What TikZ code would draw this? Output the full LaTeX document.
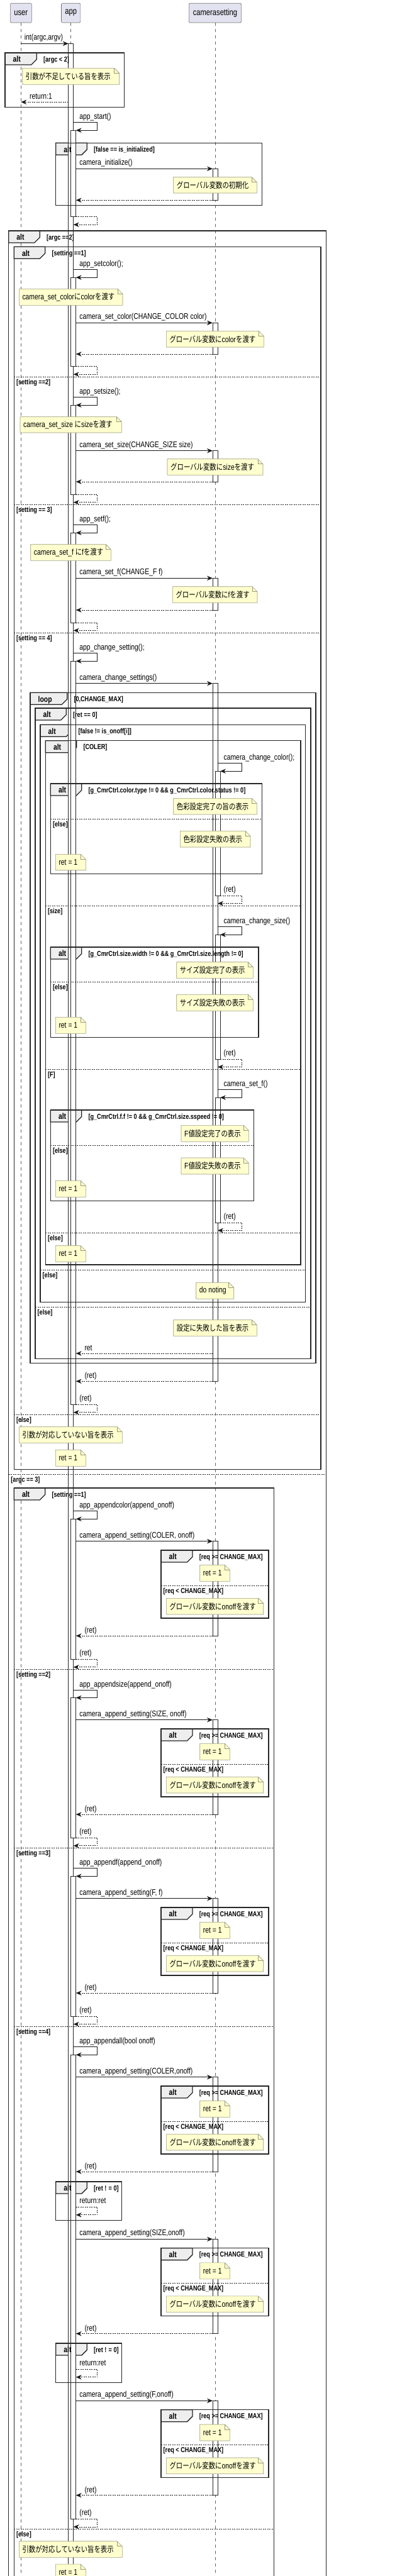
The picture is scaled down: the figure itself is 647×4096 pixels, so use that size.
\documentclass[tikz,border=0pt]{standalone}
\usepackage{fontspec}
\setmainfont[FakeStretch=0.8]{Liberation Sans}
\newfontfamily\jpfont[FakeStretch=0.8]{Noto Sans CJK JP}
\usetikzlibrary{arrows.meta}
\pgfdeclarelayer{bg}\pgfdeclarelayer{bars}\pgfdeclarelayer{fg}
\pgfsetlayers{bg,main,bars,fg}
\definecolor{partfill}{HTML}{E2E2F0}
\definecolor{tabfill}{HTML}{EEEEEE}
\definecolor{memofill}{HTML}{FEFECE}
\definecolor{memoedge}{HTML}{9A9A80}
\newcommand{\jp}[1]{{\jpfont#1}}
\def\userX{33.3}\def\appL{108.7}\def\appR{116.7}\def\appRR{120.7}\def\appTurn{154.7}
\def\camL{338}\def\camR{346}\def\camRR{350}\def\camTurn{384}
\newcommand{\actbar}[3]{\begin{pgfonlayer}{bars}\draw[actbox] (#1-4,#2) rectangle (#1+4,#3);\end{pgfonlayer}}
\newcommand{\callmsg}[4]{\begin{pgfonlayer}{fg}
  \draw[callline] (#1,#3) -- (#2,#3);
  \node[msglbl] at (#1+5.4,#3-5.5) {#4};\end{pgfonlayer}}
\newcommand{\retmsg}[4]{\begin{pgfonlayer}{fg}
  \draw[retline] (#1,#3) -- (#2,#3);
  \node[msglbl] at (#2+13.6,#3-4.6) {#4};\end{pgfonlayer}}
\newcommand{\selfcall}[5]{\begin{pgfonlayer}{fg}
  \draw[callline] (#1,#4) -- (#2,#4) -- (#2,#4+12.5) -- (#3,#4+12.5);
  \node[msglbl] at (#1+9.4,#4-5) {#5};\end{pgfonlayer}}
\newcommand{\selfret}[5]{\begin{pgfonlayer}{fg}
  \draw[retline] (#1,#4) -- (#2,#4) -- (#2,#4+12.5) -- (#3,#4+12.5);
  \node[msglbl] at (#1+5.5,#4-6) {#5};\end{pgfonlayer}}
\newcommand{\frm}[7]{%
  \filldraw[tabshape] (#1,#2) -- ++(#7,0) -- ++(0,10.5) -- ++(-8.5,8.5) -- (#1,#2+19) -- cycle;
  \begin{pgfonlayer}{fg}
  \draw[frameline] (#1,#2) rectangle (#3,#4);
  \node[tablbl] at (#1+12.5,#2+14.8) {#5};
  \node[guardlbl] at (#1+#7+10.6,#2+14.2) {#6};\end{pgfonlayer}}
\newcommand{\altsep}[4]{\begin{pgfonlayer}{fg}
  \draw[sepline] (#1,#3) -- (#2,#3);
  \node[guardlbl] at (#1+3.5,#3+12) {#4};\end{pgfonlayer}}
\newcommand{\memo}[5]{\begin{pgfonlayer}{fg}
  \filldraw[memobox] (#1,#2) -- (#3-8,#2) -- (#3,#2+8) -- (#3,#4) -- (#1,#4) -- cycle;
  \draw[memobox, fill=none] (#3-8,#2) -- (#3-8,#2+8) -- (#3,#2+8);
  \node[msglbl, anchor=west] at (#1+5,{(#2+#4)/2}) {#5};\end{pgfonlayer}}
\newcommand{\reqalt}[1]{%
  \frm{256}{#1}{427}{#1+108}{alt}{[req >= CHANGE\_MAX]}{50}
  \memo{317.7}{#1+23.3}{365.3}{#1+49.3}{ret = 1}
  \altsep{256}{427}{#1+56}{[req < CHANGE\_MAX]}
  \memo{264.3}{#1+76.3}{418.7}{#1+102}{\jp{グローバル変数に}onoff\jp{を渡す}}}
\newcommand{\appendblock}[2]{%
  \callmsg{\appRR}{\camL}{#1}{#2}
  \actbar{342}{#1}{#1+150.3}
  \reqalt{#1+14.3}
  \retmsg{\camL}{\appRR}{#1+150.3}{(ret)}}
\begin{document}
\begin{tikzpicture}[x=1pt, y=-1pt,
  partbox/.style={draw=black!55, fill=partfill, rounded corners=1.5pt, line width=0.6pt,
    minimum width=#1, minimum height=30.7pt, inner sep=0pt, font=\fontsize{14}{16}\selectfont},
  lifeline/.style={draw=black!60, dash pattern=on 5pt off 5pt, line width=0.5pt},
  actbox/.style={draw=black!85, fill=white, line width=0.6pt},
  callline/.style={draw=black!90, line width=0.7pt, -{Stealth[length=9pt,width=7.5pt,inset=3pt]}},
  retline/.style={callline, dash pattern=on 2pt off 1.5pt},
  frameline/.style={draw=black!85, line width=1.3pt},
  tabshape/.style={frameline, fill=tabfill},
  sepline/.style={draw=black!85, line width=0.6pt, dash pattern=on 2pt off 1.5pt},
  memobox/.style={draw=memoedge, fill=memofill, line width=0.6pt},
  msglbl/.style={anchor=base west, inner sep=0pt, font=\fontsize{13}{15}\selectfont},
  guardlbl/.style={anchor=base west, inner sep=0pt, font=\bfseries\fontsize{11.4}{13}\selectfont},
  tablbl/.style={anchor=base west, inner sep=0pt, font=\bfseries\fontsize{13}{15}\selectfont}]
\useasboundingbox (0,0) rectangle (647,4096);
\node[partbox=34pt] (user) at (33.3,20.6) {user};
\node[partbox=30.4pt] (app) at (112.7,20.6) {app};
\node[partbox=83.3pt] (cam) at (342,20.6) {camerasetting};
\begin{pgfonlayer}{bg}
\draw[lifeline] (user.south) -- ++(0,4100);
\draw[lifeline] (app.south) -- ++(0,4100);
\draw[lifeline] (cam.south) -- ++(0,4100);
\end{pgfonlayer}
\callmsg{\userX}{\appL}{69.3}{int(argc,argv)}
\actbar{112.7}{69.3}{4120}
\frm{8}{84}{197.7}{170.7}{alt}{[argc < 2]}{50.3}
\memo{35.7}{108.3}{189.7}{134.3}{\jp{引数が不足している旨を表示}}
\retmsg{\appL}{\userX}{162.3}{return:1}
\selfcall{\appR}{\appTurn}{\appRR}{194.7}{app\_start()}
\actbar{116.7}{207.3}{344.7}
\frm{88.7}{227.3}{416.7}{326.7}{alt}{[false == is\_initialized]}{49.6}
\callmsg{\appRR}{\camL}{268.3}{camera\_initialize()}
\actbar{342}{268.3}{318.3}
\memo{275.7}{281.7}{408.3}{307}{\jp{グローバル変数の初期化}}
\retmsg{\camL}{\appRR}{318.3}{}
\selfret{\appRR}{\appTurn}{\appR}{344.7}{}
\frm{13.7}{367}{518.3}{4120}{alt}{[argc ==2]}{49.6}
\frm{22.3}{392.3}{510}{2336.3}{alt}{[setting ==1]}{49.4}
\selfcall{\appR}{\appTurn}{\appRR}{428.7}{app\_setcolor();}
\actbar{116.7}{441}{582.7}
\memo{30.3}{459.3}{195}{485.3}{camera\_set\_color\jp{に}color\jp{を渡す}}
\callmsg{\appRR}{\camL}{513.3}{camera\_set\_color(CHANGE\_COLOR color)}
\actbar{342}{513.3}{563}
\memo{264.3}{526.3}{419.3}{552}{\jp{グローバル変数に}color\jp{を渡す}}
\retmsg{\camL}{\appRR}{563}{}
\selfret{\appRR}{\appTurn}{\appR}{582.7}{}
\altsep{22.3}{510}{599.3}{[setting ==2]}
\selfcall{\appR}{\appTurn}{\appRR}{631.7}{app\_setsize();}
\actbar{116.7}{644.3}{786.3}
\memo{32}{662.7}{193.3}{688}{camera\_set\_size \jp{に}size\jp{を渡す}}
\callmsg{\appRR}{\camL}{716.7}{camera\_set\_size(CHANGE\_SIZE size)}
\actbar{342}{716.7}{766}
\memo{266}{729.7}{418}{755.3}{\jp{グローバル変数に}size\jp{を渡す}}
\retmsg{\camL}{\appRR}{766}{}
\selfret{\appRR}{\appTurn}{\appR}{786.3}{}
\altsep{22.3}{510}{802}{[setting == 3]}
\selfcall{\appR}{\appTurn}{\appRR}{834.7}{app\_setf();}
\actbar{116.7}{847.3}{990}
\memo{48.7}{865.7}{176.3}{891.3}{camera\_set\_f \jp{に}f\jp{を渡す}}
\callmsg{\appRR}{\camL}{919.3}{camera\_set\_f(CHANGE\_F f)}
\actbar{342}{919.3}{970}
\memo{274.3}{932.7}{409}{958.3}{\jp{グローバル変数に}f\jp{を渡す}}
\retmsg{\camL}{\appRR}{970}{}
\selfret{\appRR}{\appTurn}{\appR}{990}{}
\altsep{22.3}{510}{1006.3}{[setting == 4]}
\selfcall{\appR}{\appTurn}{\appRR}{1038.7}{app\_change\_setting();}
\actbar{116.7}{1051}{2233.3}
\callmsg{\appRR}{\camL}{1086.7}{camera\_change\_settings()}
\actbar{342}{1086.7}{2196.3}
\frm{48}{1101.3}{502}{2167.7}{loop}{[0,CHANGE\_MAX]}{58.7}
\frm{56}{1126}{494}{2160.3}{alt}{[ret == 0]}{49.3}
\frm{64}{1152.3}{485.7}{2070.3}{alt}{[false != is\_onoff[i]]}{49.7}
\frm{72.3}{1177.7}{478}{2011}{alt}{[COLER]}{49.4}
\selfcall{\camR}{\camTurn}{\camRR}{1213.7}{camera\_change\_color();}
\actbar{346}{1226}{1424}
\frm{80.3}{1246}{416.7}{1389.3}{alt}{[g\_CmrCtrl.color.type != 0 \&\& g\_CmrCtrl.color.status != 0]}{49.4}
\memo{275.7}{1269.3}{408.3}{1295}{\jp{色彩設定完了の旨の表示}}
\altsep{80.3}{416.7}{1302}{[else]}
\memo{286.3}{1321.3}{398}{1347}{\jp{色彩設定失敗の表示}}
\memo{88.3}{1358.3}{136.3}{1383.7}{ret = 1}
\selfret{\camRR}{\camTurn}{\camR}{1424}{(ret)}
\altsep{72.3}{478}{1440}{[size]}
\selfcall{\camR}{\camTurn}{\camRR}{1473.7}{camera\_change\_size()}
\actbar{346}{1486.3}{1684}
\frm{80.3}{1506}{411}{1649.7}{alt}{[g\_CmrCtrl.size.width != 0 \&\& g\_CmrCtrl.size.length != 0]}{49.4}
\memo{280.7}{1529.7}{402.3}{1555.3}{\jp{サイズ設定完了の表示}}
\altsep{80.3}{411}{1561.3}{[else]}
\memo{280.7}{1581.3}{402.3}{1607.3}{\jp{サイズ設定失敗の表示}}
\memo{88.3}{1617.3}{136.3}{1643.3}{ret = 1}
\selfret{\camRR}{\camTurn}{\camR}{1684}{(ret)}
\altsep{72.3}{478}{1700.3}{[F]}
\selfcall{\camR}{\camTurn}{\camRR}{1732.7}{camera\_set\_f()}
\actbar{346}{1745}{1944}
\frm{80.3}{1765}{403.7}{1909.3}{alt}{[g\_CmrCtrl.f.f != 0 \&\& g\_CmrCtrl.size.sspeed != 0]}{49.4}
\memo{288}{1789.3}{395.3}{1815.3}{F\jp{値設定完了の表示}}
\altsep{80.3}{403.7}{1821.3}{[else]}
\memo{288}{1841}{395.3}{1867}{F\jp{値設定失敗の表示}}
\memo{88.3}{1877.3}{136.3}{1903.3}{ret = 1}
\selfret{\camRR}{\camTurn}{\camR}{1944}{(ret)}
\altsep{72.3}{478}{1960}{[else]}
\memo{88.3}{1980.7}{136.3}{2006.3}{ret = 1}
\altsep{64}{485.7}{2019.3}{[else]}
\memo{311.7}{2039.3}{371.7}{2065.3}{do noting}
\altsep{56}{494}{2078}{[else]}
\memo{275.7}{2098.7}{408.3}{2124.3}{\jp{設定に失敗した旨を表示}}
\retmsg{\camL}{\appRR}{2152}{ret}
\retmsg{\camL}{\appRR}{2196.3}{(ret)}
\selfret{\appRR}{\appTurn}{\appR}{2233.3}{(ret)}
\altsep{22.3}{510}{2249.3}{[else]}
\memo{30.3}{2268.7}{194.3}{2294.3}{\jp{引数が対応していない旨を表示}}
\memo{88.3}{2305.3}{136.3}{2331.3}{ret = 1}
\altsep{13.7}{518.3}{2344.3}{[argc == 3]}
\frm{22.3}{2366}{435.3}{4120}{alt}{[setting ==1]}{49.4}
\selfcall{\appR}{\appTurn}{\appRR}{2402.7}{app\_appendcolor(append\_onoff)}
\actbar{116.7}{2415}{2638.3}
\appendblock{2450.7}{camera\_append\_setting(COLER, onoff)}
\selfret{\appRR}{\appTurn}{\appR}{2638.3}{(ret)}
\altsep{22.3}{435.3}{2654.3}{[setting ==2]}
\selfcall{\appR}{\appTurn}{\appRR}{2687}{app\_appendsize(append\_onoff)}
\actbar{116.7}{2699.3}{2922.3}
\appendblock{2734.7}{camera\_append\_setting(SIZE, onoff)}
\selfret{\appRR}{\appTurn}{\appR}{2922.3}{(ret)}
\altsep{22.3}{435.3}{2938}{[setting ==3]}
\selfcall{\appR}{\appTurn}{\appRR}{2970.7}{app\_appendf(append\_onoff)}
\actbar{116.7}{2983.3}{3206}
\appendblock{3018.7}{camera\_append\_setting(F, f)}
\selfret{\appRR}{\appTurn}{\appR}{3206}{(ret)}
\altsep{22.3}{435.3}{3222.3}{[setting ==4]}
\selfcall{\appR}{\appTurn}{\appRR}{3254.7}{app\_appendall(bool onoff)}
\actbar{116.7}{3267.3}{4005.3}
\appendblock{3302.7}{camera\_append\_setting(COLER,onoff)}
\frm{88.7}{3469}{193.7}{3530.3}{alt}{[ret ! = 0]}{49.6}
\selfret{\appRR}{\appTurn}{\appRR}{3509.3}{return:ret}
\appendblock{3560.3}{camera\_append\_setting(SIZE,onoff)}
\frm{88.7}{3726}{193.7}{3788.3}{alt}{[ret ! = 0]}{49.6}
\selfret{\appRR}{\appTurn}{\appRR}{3767.3}{return:ret}
\appendblock{3817.3}{camera\_append\_setting(F,onoff)}
\selfret{\appRR}{\appTurn}{\appR}{4005.3}{(ret)}
\altsep{22.3}{435.3}{4021}{[else]}
\memo{30.3}{4040.7}{194.3}{4066.3}{\jp{引数が対応していない旨を表示}}
\memo{88.3}{4077}{136.3}{4103}{ret = 1}
\end{tikzpicture}
\end{document}
